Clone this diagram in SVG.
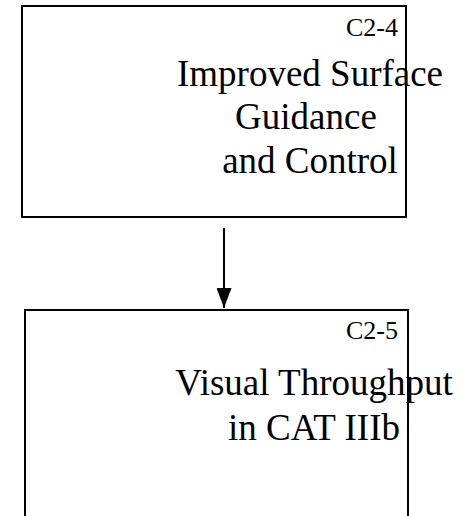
<svg xmlns="http://www.w3.org/2000/svg" width="462" height="516" viewBox="0 0 462 516">
<style>
.box{fill:#fff;stroke:#000;stroke-width:2}
.id{font-family:"Liberation Serif","Times New Roman",serif;font-size:26px;text-anchor:end;fill:#000}
.lbl{font-family:"Liberation Serif","Times New Roman",serif;font-size:37px;text-anchor:middle;fill:#000}
.conn{stroke:#000;stroke-width:2;fill:none}
</style>
<defs>
<marker id="ah" markerWidth="20" markerHeight="15" refX="20" refY="7.5" orient="auto" markerUnits="userSpaceOnUse" viewBox="0 0 20 15">
<path d="M0,0 L20,7.5 L0,15 Z" fill="#000"/>
</marker>
</defs>
<g id="node-c2-4">
<rect class="box" x="22" y="6" width="384" height="211"/>
<text class="id" x="398" y="36">C2-4</text>
<text class="lbl" x="310" y="86">Improved Surface</text>
<text class="lbl" x="306" y="129">Guidance</text>
<text class="lbl" x="310" y="173">and Control</text>
</g>
<g id="node-c2-5">
<rect class="box" x="25" y="310" width="383" height="220"/>
<text class="id" x="398" y="339">C2-5</text>
<text class="lbl" x="314" y="395">Visual Throughput</text>
<text class="lbl" x="314" y="440">in CAT IIIb</text>
</g>
<g id="connectors">
<line class="conn" x1="224" y1="228" x2="224" y2="308" marker-end="url(#ah)"/>
</g>
</svg>
